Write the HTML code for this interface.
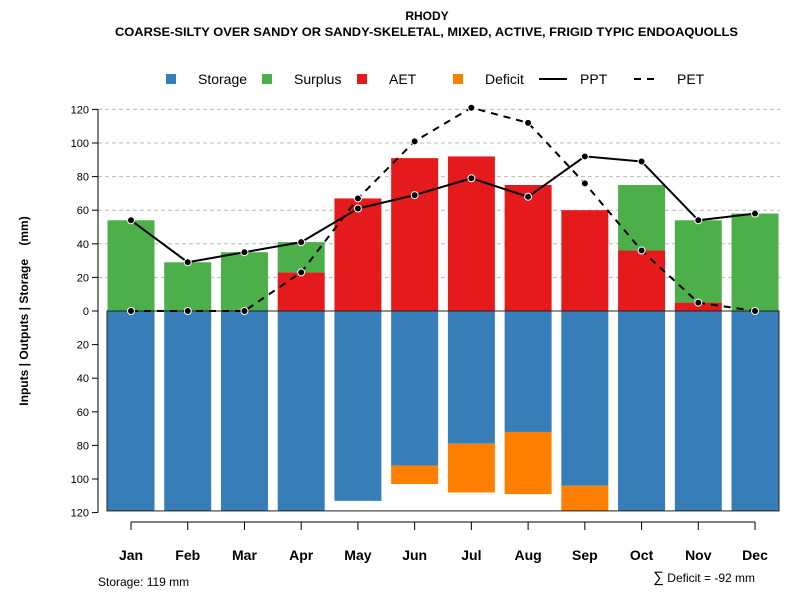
<!DOCTYPE html>
<html><head><meta charset="utf-8"><style>
body{margin:0;background:#fff;font-family:"Liberation Sans",sans-serif;}
svg text{font-family:"Liberation Sans",sans-serif;}
</style></head><body>
<svg id="chart" width="800" height="600" xmlns="http://www.w3.org/2000/svg">
<text x="427" y="20" text-anchor="middle" font-size="12" font-weight="bold">RHODY</text>
<text x="115" y="36" textLength="623" lengthAdjust="spacingAndGlyphs" font-size="12" font-weight="bold">COARSE-SILTY OVER SANDY OR SANDY-SKELETAL, MIXED, ACTIVE, FRIGID TYPIC ENDOAQUOLLS</text>
<g id="legend" font-size="14">
<rect x="166" y="74" width="10" height="10" fill="#377eb8"/>
<text x="198" y="84">Storage</text>
<rect x="262" y="74" width="10" height="10" fill="#4daf4a"/>
<text x="294" y="84">Surplus</text>
<rect x="357" y="74" width="10" height="10" fill="#e41a1c"/>
<text x="389" y="84">AET</text>
<rect x="453" y="74" width="10" height="10" fill="#ff7f00"/>
<text x="485" y="84">Deficit</text>
<line x1="539" y1="79" x2="567" y2="79" stroke="#000" stroke-width="2"/>
<text x="580" y="84">PPT</text>
<line x1="634" y1="79" x2="660" y2="79" stroke="#000" stroke-width="2" stroke-dasharray="7,6"/>
<text x="677" y="84">PET</text>
</g>
<g id="grid"></g><g id="bars"></g><g id="lines"></g><g id="axes"></g>
<text transform="translate(28,311) rotate(-90)" text-anchor="middle" font-size="12" font-weight="bold" xml:space="preserve">Inputs | Outputs | Storage    (mm)</text>
<text x="98" y="586" font-size="12">Storage: 119 mm</text>
<text x="755" y="582" text-anchor="end" font-size="12"><tspan font-size="15">∑</tspan> Deficit = -92 mm</text>
</svg>
<script>
const months=["Jan","Feb","Mar","Apr","May","Jun","Jul","Aug","Sep","Oct","Nov","Dec"];
const aet=[0,0,0,23,67,91,92,75,60,36,5,0];
const surplus=[54,29,35,18,0,0,0,0,0,39,49,58];
const storage=[119,119,119,119,113,92,79,72,104,119,119,119];
const deficit=[0,0,0,0,0,11,29,37,15,0,0,0];
const ppt=[54,29,35,41,61,69,79,68,92,89,54,58];
const pet=[0,0,0,23,67,101,121,112,76,36,5,0];
const yTicks=[120,100,80,60,40,20,0,20,40,60,80,100,120];
const NS="http://www.w3.org/2000/svg";
const y=v=>311-v*1.68;
const x=i=>131+i*56.73;
const bw=47;
function mk(tag,attrs,parent){const e=document.createElementNS(NS,tag);for(const k in attrs)e.setAttribute(k,attrs[k]);document.getElementById(parent).appendChild(e);return e;}
[20,40,60,80,100,120].forEach(v=>{
 const g=mk("line",{x1:98,x2:780,y1:y(v),y2:y(v),stroke:"#bbb","stroke-dasharray":"4,3"},"grid");
 
 
});
months.forEach((m,i)=>{
 const l=x(i)-bw/2;
 const s=mk("rect",{x:l,y:y(0),width:bw,height:y(-storage[i])-y(0),fill:"#377eb8"},"bars");
 
 
 if(deficit[i]>0){
  const d=mk("rect",{x:l,y:y(-storage[i]),width:bw,height:deficit[i]*1.68,fill:"#ff7f00"},"bars");
  
  
 }
 if(aet[i]>0){
  const a=mk("rect",{x:l,y:y(aet[i]),width:bw,height:aet[i]*1.68,fill:"#e41a1c"},"bars");
  
  
 }
 if(surplus[i]>0){
  const s2=mk("rect",{x:l,y:y(aet[i]+surplus[i]),width:bw,height:surplus[i]*1.68,fill:"#4daf4a"},"bars");
  
  
 }
 const t=mk("line",{x1:x(i),x2:x(i),y1:522,y2:530,stroke:"#000"},"axes");
 
 
 const lb=mk("text",{x:x(i),y:560,"text-anchor":"middle","font-size":"14","font-weight":"bold"},"axes");
 lb.textContent=m;
 
 
});
const box=mk("rect",{x:107,y:y(0),width:672,height:y(-119)-y(0),fill:"none",stroke:"#222","stroke-width":1},"bars");


function series(vals,name,dash){
 const p=mk("polyline",{points:vals.map((v,i)=>x(i)+","+y(v)).join(" "),fill:"none",stroke:"#000","stroke-width":2,"stroke-dasharray":dash},"lines");
 
 
 vals.forEach((v,i)=>{
  const c=mk("circle",{cx:x(i),cy:y(v),r:3.5,fill:"#000",stroke:"#fff","stroke-width":1},"lines");
  
  
 });
}
series(pet,"pet","7,6");
series(ppt,"ppt","none");
const ax=mk("line",{x1:98,x2:98,y1:y(120),y2:y(-120),stroke:"#000"},"axes");


const xa=mk("line",{x1:x(0),x2:x(11),y1:522,y2:522,stroke:"#000"},"axes");


yTicks.forEach((v,k)=>{
 const val=k<6?v:-v;
 const t=mk("line",{x1:92,x2:98,y1:y(val),y2:y(val),stroke:"#000"},"axes");
 
 
 const lb=mk("text",{x:89,y:y(val)+4,"text-anchor":"end","font-size":"11"},"axes");
 lb.textContent=v;
 
 
});
</script>
</body></html>
